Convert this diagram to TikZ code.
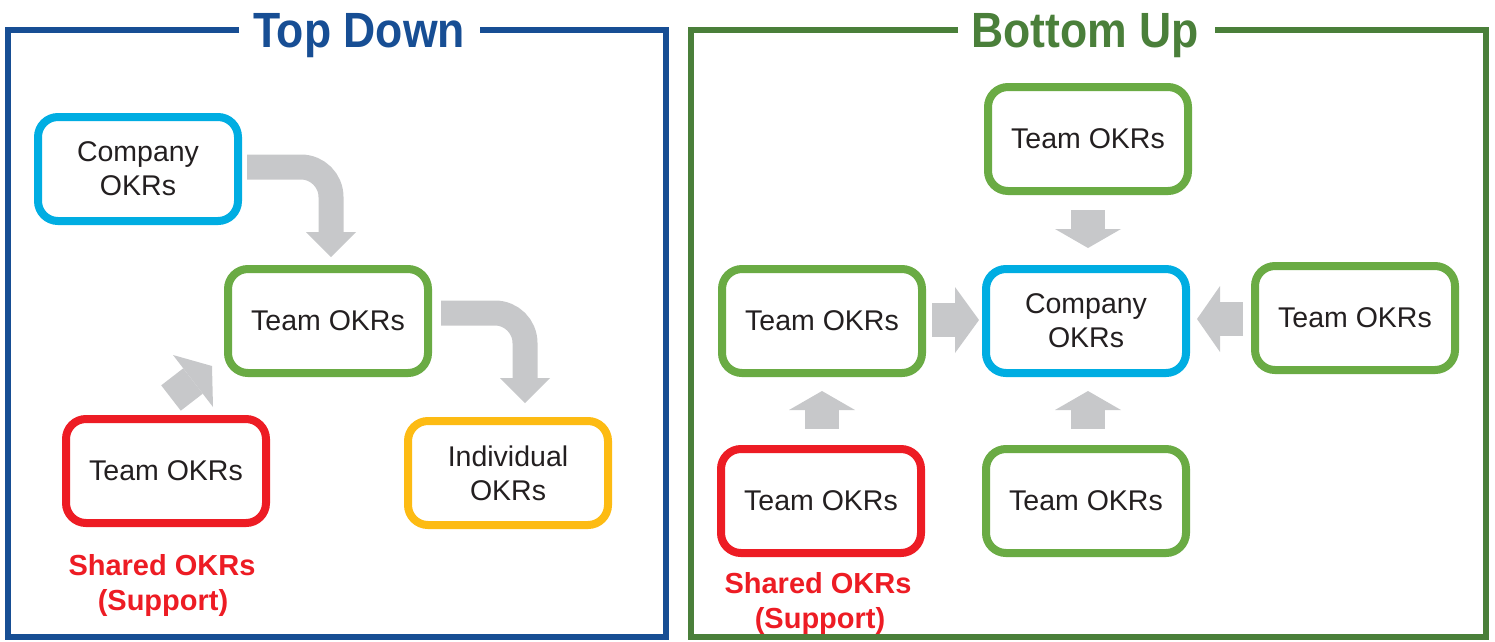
\documentclass[tikz,border=0pt]{standalone}
\usepackage{fontspec}
\setmainfont{Liberation Sans}
\newfontfamily\condfont[FakeStretch=0.9]{Liberation Sans}
\definecolor{tdblue}{HTML}{174E94}
\definecolor{bugreen}{HTML}{4A7F3A}
\definecolor{bgreen}{HTML}{6AAB44}
\definecolor{bcyan}{HTML}{00ADE2}
\definecolor{bred}{HTML}{ED1C24}
\definecolor{byellow}{HTML}{FDBB13}
\definecolor{agray}{HTML}{C7C8CA}
\definecolor{tdark}{HTML}{231F20}
\begin{document}
\begin{tikzpicture}[x=1pt,y=-1pt,
  okr/.style={draw, line width=8pt, rounded corners=20pt, fill=white,
    minimum width=200pt, minimum height=104pt, inner sep=0pt,
    align=center, text=tdark, font=\fontsize{28.5}{34}\selectfont},
  frame/.style={line width=6pt},
  title/.style={anchor=base, inner sep=0pt, font=\condfont\bfseries\fontsize{49.5}{52}\selectfont},
  shared/.style={text=bred, align=center, inner sep=0pt, font=\bfseries\fontsize{29}{35}\selectfont},
  shaft/.style={draw=agray, line width=25pt, rounded corners=30pt},
  bshaft/.style={draw=agray, line width=34pt},
  head/.style={fill=agray}
]
\useasboundingbox (0,0) rectangle (1495,641);

% frames
\draw[frame, draw=tdblue] (239,30) -- (8,30) -- (8,637) -- (666,637) -- (666,30) -- (480,30);
\draw[frame, draw=bugreen] (958,30) -- (691,30) -- (691,637) -- (1486,637) -- (1486,30) -- (1215,30);
\node[title, text=tdblue] (ttd) at (359,47) {Top Down};
\node[title, text=bugreen] (tbu) at (1085,47) {Bottom Up};

% left panel boxes
\node[okr, draw=bcyan] (c1) at (138,169) {Company\\OKRs};
\node[okr, draw=bgreen] (t1) at (328,321) {Team OKRs};
\node[okr, draw=bred] (r1) at (166,471) {Team OKRs};
\node[okr, draw=byellow] (i1) at (508,473) {Individual\\OKRs};
\node[shared, anchor=base] (s1a) at (162,575) {Shared OKRs};
\node[shared, anchor=base] (s1b) at (163,610) {(Support)};

% left panel arrows
\coordinate (a1s) at (247,167);
\coordinate (a1b) at (331,232);
\draw[shaft] (a1s) -| (a1b);
\fill[head] (a1b) ++(-25,0) -- ++(50,0) -- ++(-25,25) -- cycle;

\coordinate (a2s) at (441,313);
\coordinate (a2b) at (525,378);
\draw[shaft] (a2s) -| (a2b);
\fill[head] (a2b) ++(-25,0) -- ++(50,0) -- ++(-25,25) -- cycle;

\coordinate (a3s) at (171,398);
\coordinate (a3b) at (193,381);
\draw[draw=agray, line width=32pt] (a3s) -- (a3b);
\fill[head] (173,355) -- (212,366) -- (213,407) -- cycle;

% right panel boxes
\node[okr, draw=bgreen] (tt) at (1088,139) {Team OKRs};
\node[okr, draw=bcyan] (cc) at (1086,321) {Company\\OKRs};
\node[okr, draw=bgreen] (tl) at (822,321) {Team OKRs};
\node[okr, draw=bgreen] (tr) at (1355,318) {Team OKRs};
\node[okr, draw=bred] (rb) at (821,501) {Team OKRs};
\node[okr, draw=bgreen] (tb) at (1086,501) {Team OKRs};
\node[shared, anchor=base] (s2a) at (818,593) {Shared OKRs};
\node[shared, anchor=base] (s2b) at (820,628) {(Support)};

% right panel arrows
\coordinate (b1s) at (1088,210); \coordinate (b1b) at (1088,229);
\draw[bshaft] (b1s) -- (b1b);
\fill[head] (b1b) ++(-33,0) -- ++(66,0) -- ++(-33,19) -- cycle;

\coordinate (b2s) at (932,320); \coordinate (b2b) at (955,320);
\draw[bshaft] (b2s) -- (b2b);
\fill[head] (b2b) ++(0,-33) -- ++(0,66) -- ++(24,-33) -- cycle;

\coordinate (b3s) at (1243,319); \coordinate (b3b) at (1220,319);
\draw[bshaft] (b3s) -- (b3b);
\fill[head] (b3b) ++(0,-33) -- ++(0,66) -- ++(-23,-33) -- cycle;

\coordinate (b4s) at (1088,429); \coordinate (b4b) at (1088,410);
\draw[bshaft] (b4s) -- (b4b);
\fill[head] (b4b) ++(-33,0) -- ++(66,0) -- ++(-33,-19) -- cycle;

\coordinate (b5s) at (822,429); \coordinate (b5b) at (822,410);
\draw[bshaft] (b5s) -- (b5b);
\fill[head] (b5b) ++(-33,0) -- ++(66,0) -- ++(-33,-19) -- cycle;
\end{tikzpicture}
\end{document}
